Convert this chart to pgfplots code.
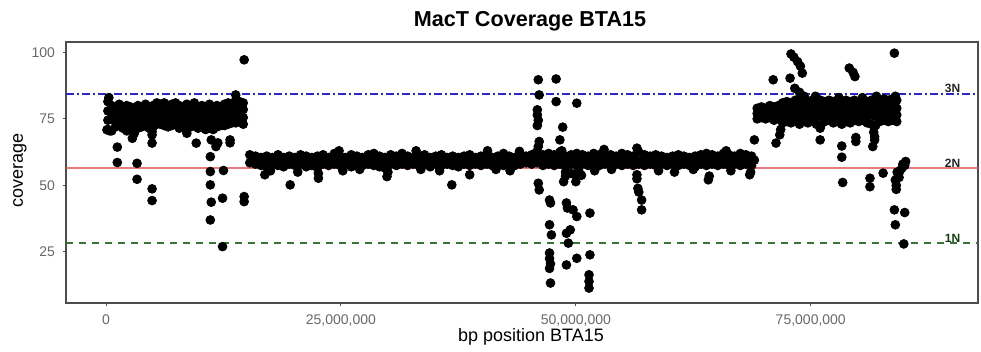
\documentclass[border=0pt]{standalone}
\usepackage{pgfplots}
\pgfplotsset{compat=1.18}
\usepackage{fontspec}
\setmainfont{Liberation Sans}
\definecolor{gthirty}{RGB}{77,77,77}
\definecolor{lineblue}{RGB}{40,40,190}
\definecolor{linered}{RGB}{225,100,100}
\definecolor{linegreen}{RGB}{55,115,55}
\begin{document}
\begin{tikzpicture}
\useasboundingbox (0,0) rectangle (490.5pt,176pt);
\begin{axis}[
  at={(33pt,24.5pt)}, anchor=south west,
  scale only axis, width=456pt, height=130.5pt,
  xmin=-4.26, xmax=92.8, ymin=5.8, ymax=103.9,
  xtick={0,25,50,75},
  xticklabels={0,{25,000,000},{50,000,000},{75,000,000}},
  ytick={25,50,75,100},
  tick pos=left, tick align=outside, major tick length=1.5pt,
  every tick/.style={gthirty, line width=0.5pt},
  axis line style={gthirty, line width=0.6pt},
  ticklabel style={font=\fontsize{7}{8}\selectfont, text=gthirty!85},
  /pgf/number format/assume math mode=true,
  xticklabel style={yshift=-1pt},
  yticklabel style={xshift=-0.5pt},
  clip=false,
]
\addplot[only marks, mark=*, mark size=2.2pt, mark options={fill=black, draw=black}] table[row sep=\\] {
x y\\
0.2 81.5\\ 0.2 78.0\\ 0.2 74.5\\ 0.2 71.0\\
0.6 80.0\\ 0.6 77.5\\ 0.6 75.0\\ 0.6 70.5\\
1.0 79.5\\ 1.0 77.0\\ 1.0 74.0\\ 1.0 72.0\\
1.4 80.5\\ 1.4 77.5\\ 1.4 74.5\\ 1.4 72.5\\
1.8 79.0\\ 1.8 76.5\\ 1.8 74.0\\ 1.8 71.5\\
2.2 80.0\\ 2.2 77.0\\ 2.2 73.5\\ 2.2 70.5\\
2.6 79.5\\ 2.6 76.5\\ 2.6 73.0\\ 2.6 71.0\\
3.0 78.5\\ 3.0 76.0\\ 3.0 73.5\\ 3.0 70.0\\
3.4 80.0\\ 3.4 77.0\\ 3.4 74.0\\ 3.4 71.5\\
3.8 79.0\\ 3.8 76.5\\ 3.8 73.5\\ 3.8 72.0\\
4.2 80.5\\ 4.2 77.0\\ 4.2 74.5\\ 4.2 72.5\\
4.6 79.5\\ 4.6 77.5\\ 4.6 74.0\\ 4.6 71.5\\
5.0 80.0\\ 5.0 77.0\\ 5.0 74.5\\ 5.0 72.0\\
5.4 81.0\\ 5.4 78.0\\ 5.4 75.0\\ 5.4 73.0\\
5.8 80.5\\ 5.8 78.5\\ 5.8 75.5\\ 5.8 73.0\\
6.2 81.0\\ 6.2 78.0\\ 6.2 75.0\\ 6.2 72.5\\
6.6 80.0\\ 6.6 77.5\\ 6.6 74.5\\ 6.6 72.0\\
7.0 80.5\\ 7.0 78.0\\ 7.0 75.0\\ 7.0 72.5\\
7.4 81.0\\ 7.4 78.5\\ 7.4 75.5\\ 7.4 73.0\\
7.8 80.0\\ 7.8 77.0\\ 7.8 74.5\\ 7.8 71.5\\
8.2 79.5\\ 8.2 77.5\\ 8.2 74.0\\ 8.2 72.0\\
8.6 80.5\\ 8.6 77.0\\ 8.6 74.5\\ 8.6 72.5\\
9.0 80.0\\ 9.0 77.5\\ 9.0 75.0\\ 9.0 72.0\\
9.4 81.0\\ 9.4 78.0\\ 9.4 74.5\\ 9.4 72.5\\
9.8 79.5\\ 9.8 77.0\\ 9.8 74.0\\ 9.8 71.5\\
10.2 80.0\\ 10.2 77.5\\ 10.2 74.5\\ 10.2 72.0\\
10.6 79.0\\ 10.6 76.5\\ 10.6 73.5\\ 10.6 71.0\\
11.0 80.5\\ 11.0 77.0\\ 11.0 74.0\\ 11.0 71.5\\
11.4 79.5\\ 11.4 76.5\\ 11.4 73.5\\ 11.4 71.0\\
11.8 80.0\\ 11.8 77.5\\ 11.8 74.5\\ 11.8 72.0\\
12.2 79.5\\ 12.2 77.0\\ 12.2 74.5\\ 12.2 72.5\\
12.6 80.5\\ 12.6 78.0\\ 12.6 75.0\\ 12.6 72.5\\
13.0 81.0\\ 13.0 78.5\\ 13.0 75.5\\ 13.0 73.0\\
13.4 80.5\\ 13.4 78.0\\ 13.4 75.5\\ 13.4 73.5\\
13.8 82.0\\ 13.8 79.0\\ 13.8 76.0\\ 13.8 73.5\\
14.2 81.5\\ 14.2 78.5\\ 14.2 76.0\\ 14.2 74.0\\
14.6 81.0\\ 14.6 78.5\\ 14.6 75.5\\ 14.6 73.0\\
13.8 84.0\\ 0.3 83.0\\
14.7 97.2\\ 0.1 70.9\\ 0.4 70.5\\ 1.2 64.4\\ 1.2 58.6\\ 2.8 67.7\\ 3.0 69.5\\
3.3 58.3\\ 3.3 52.3\\ 4.9 70.2\\ 4.9 69.0\\ 4.9 65.9\\ 4.9 48.7\\ 4.9 44.3\\
8.6 69.6\\ 9.6 65.9\\ 11.2 67.1\\ 11.7 64.6\\ 11.9 66.0\\ 11.1 60.8\\ 11.1 55.2\\
12.5 55.6\\ 11.1 50.2\\ 11.2 43.7\\ 12.4 45.2\\ 11.1 37.0\\ 12.4 27.0\\
13.2 67.1\\ 13.2 66.0\\ 14.7 45.8\\ 14.7 43.9\\
15.3 61.5\\ 15.3 58.5\\ 15.9 61.0\\ 15.9 58.0\\ 16.5 60.5\\ 16.5 57.5\\
17.1 61.0\\ 17.1 57.0\\ 17.7 60.5\\ 17.7 58.0\\ 18.3 61.5\\ 18.3 57.5\\
18.9 60.5\\ 18.9 57.0\\ 19.5 61.0\\ 19.5 58.0\\ 20.1 60.5\\ 20.1 57.5\\
20.7 61.5\\ 20.7 58.0\\ 21.3 61.0\\ 21.3 57.0\\ 21.9 60.5\\ 21.9 57.5\\
22.5 61.0\\ 22.5 56.5\\ 23.1 61.5\\ 23.1 58.0\\ 23.7 60.5\\ 23.7 57.5\\
24.3 62.0\\ 24.3 58.0\\ 24.9 61.0\\ 24.9 57.5\\ 25.5 60.5\\ 25.5 58.0\\
26.1 61.5\\ 26.1 57.0\\ 26.7 61.0\\ 26.7 58.0\\ 27.3 60.5\\ 27.3 57.5\\
27.9 61.5\\ 27.9 58.0\\ 28.5 62.0\\ 28.5 57.5\\ 29.1 61.0\\ 29.1 57.0\\
29.7 60.5\\ 29.7 56.5\\ 30.3 61.5\\ 30.3 58.0\\ 30.9 61.0\\ 30.9 57.5\\
31.5 62.0\\ 31.5 58.0\\ 32.1 61.0\\ 32.1 57.5\\ 32.7 60.5\\ 32.7 58.0\\
33.3 61.0\\ 33.3 57.5\\ 33.9 61.5\\ 33.9 58.0\\ 34.5 60.5\\ 34.5 57.0\\
35.1 61.0\\ 35.1 58.0\\ 35.7 61.5\\ 35.7 57.5\\ 36.3 60.5\\ 36.3 58.0\\
36.9 61.0\\ 36.9 57.5\\ 37.5 60.5\\ 37.5 57.0\\ 38.1 61.0\\ 38.1 58.0\\
38.7 61.5\\ 38.7 57.5\\ 39.3 60.5\\ 39.3 58.0\\ 39.9 61.0\\ 39.9 57.5\\
40.5 61.5\\ 40.5 58.0\\ 41.1 60.5\\ 41.1 57.5\\ 41.7 61.0\\ 41.7 58.0\\
42.3 62.0\\ 42.3 57.5\\ 42.9 61.0\\ 42.9 58.0\\ 43.5 60.5\\ 43.5 57.5\\
44.1 61.5\\ 44.1 58.0\\ 44.7 61.0\\ 44.7 58.5\\ 45.3 61.5\\ 45.3 58.0\\
45.9 62.5\\ 45.9 58.5\\ 46.5 61.5\\ 46.5 57.5\\ 47.1 62.0\\ 47.1 58.0\\
47.7 61.5\\ 47.7 57.5\\ 48.3 62.5\\ 48.3 58.0\\ 48.9 61.0\\ 48.9 57.0\\
49.5 61.5\\ 49.5 58.0\\ 50.1 62.0\\ 50.1 57.5\\ 50.7 61.5\\ 50.7 58.0\\
51.3 61.0\\ 51.3 57.5\\ 51.9 62.0\\ 51.9 58.0\\ 52.5 61.5\\ 52.5 57.5\\
53.1 61.0\\ 53.1 58.0\\ 53.7 61.5\\ 53.7 57.5\\ 54.3 61.0\\ 54.3 58.0\\
54.9 62.0\\ 54.9 57.5\\ 55.5 61.5\\ 55.5 58.0\\ 56.1 61.0\\ 56.1 57.5\\
56.7 62.5\\ 56.7 58.0\\ 57.3 61.5\\ 57.3 57.5\\ 57.9 61.0\\ 57.9 58.0\\
58.5 61.5\\ 58.5 57.5\\ 59.1 61.0\\ 59.1 58.0\\ 59.7 60.5\\ 59.7 57.5\\
60.3 61.0\\ 60.3 58.0\\ 60.9 61.5\\ 60.9 57.5\\ 61.5 61.0\\ 61.5 58.0\\
62.1 60.5\\ 62.1 57.5\\ 62.7 61.0\\ 62.7 57.0\\ 63.3 61.5\\ 63.3 58.0\\
63.9 62.0\\ 63.9 57.5\\ 64.5 61.5\\ 64.5 58.0\\ 65.1 61.0\\ 65.1 57.5\\
65.7 62.0\\ 65.7 58.0\\ 66.3 61.5\\ 66.3 57.5\\ 66.9 61.0\\ 66.9 58.0\\
67.5 62.0\\ 67.5 57.5\\ 68.1 61.5\\ 68.1 58.0\\ 68.7 61.0\\ 68.7 57.5\\
15.6 59.5\\ 16.2 59.0\\ 16.8 60.0\\ 17.4 59.5\\ 18.0 59.0\\ 18.6 59.5\\
19.2 60.0\\ 19.8 59.0\\ 20.4 59.5\\ 21.0 60.0\\ 21.6 59.0\\ 22.2 59.5\\
22.8 59.0\\ 23.4 60.0\\ 24.0 59.5\\ 24.6 59.0\\ 25.2 59.5\\ 25.8 60.0\\
26.4 59.0\\ 27.0 59.5\\ 27.6 60.0\\ 28.2 59.5\\ 28.8 59.0\\ 29.4 59.5\\
30.0 59.0\\ 30.6 60.0\\ 31.2 59.5\\ 31.8 59.0\\ 32.4 60.0\\ 33.0 59.5\\
33.6 59.0\\ 34.2 59.5\\ 34.8 60.0\\ 35.4 59.0\\ 36.0 59.5\\ 36.6 60.0\\
37.2 59.0\\ 37.8 59.5\\ 38.4 59.0\\ 39.0 60.0\\ 39.6 59.5\\ 40.2 59.0\\
40.8 59.5\\ 41.4 60.0\\ 42.0 59.5\\ 42.6 59.0\\ 43.2 60.0\\ 43.8 59.5\\
44.4 59.0\\ 45.0 60.0\\ 45.6 60.5\\ 46.2 59.5\\ 46.8 60.0\\ 47.4 59.5\\
48.0 60.0\\ 48.6 59.5\\ 49.2 59.0\\ 49.8 60.0\\ 50.4 59.5\\ 51.0 59.0\\
51.6 60.0\\ 52.2 59.5\\ 52.8 59.0\\ 53.4 59.5\\ 54.0 60.0\\ 54.6 59.5\\
55.2 59.0\\ 55.8 60.0\\ 56.4 59.5\\ 57.0 59.0\\ 57.6 59.5\\ 58.2 60.0\\
58.8 59.5\\ 59.4 59.0\\ 60.0 59.5\\ 60.6 60.0\\ 61.2 59.5\\ 61.8 59.0\\
62.4 59.5\\ 63.0 60.0\\ 63.6 59.5\\ 64.2 59.0\\ 64.8 60.0\\ 65.4 59.5\\
66.0 59.0\\ 66.6 59.5\\ 67.2 60.0\\ 67.8 59.5\\ 68.4 59.0\\ 69.0 59.5\\
17.5 55.5\\ 20.4 55.0\\ 22.6 54.5\\ 25.2 55.5\\ 27.0 56.0\\ 30.0 55.0\\
33.5 56.0\\ 35.5 55.5\\ 41.5 56.0\\ 43.0 55.5\\ 52.0 55.5\\ 53.8 56.0\\
58.8 55.5\\ 60.5 55.0\\ 62.5 56.0\\ 66.5 55.5\\ 68.6 55.0\\
24.8 63.0\\ 33.0 63.0\\ 40.6 63.0\\ 44.0 62.8\\ 53.0 63.5\\ 56.5 64.0\\ 66.0 63.0\\
16.9 54.0\\ 19.6 50.2\\ 22.6 52.7\\ 29.9 53.3\\ 36.8 50.2\\ 38.7 54.0\\
46.0 89.7\\ 47.9 90.0\\ 46.1 84.0\\ 47.9 81.5\\ 50.1 80.9\\ 45.9 78.4\\
45.9 76.5\\ 46.0 74.5\\ 45.9 72.5\\ 48.6 71.9\\ 46.0 64.6\\ 46.1 66.5\\
48.3 67.1\\ 45.8 62.5\\ 48.5 63.0\\
46.0 50.8\\ 46.1 48.3\\ 47.2 44.5\\ 47.3 43.4\\ 48.7 51.4\\ 48.9 53.5\\
48.9 55.0\\ 49.5 54.5\\ 50.3 55.5\\ 50.6 53.8\\
49.0 43.4\\ 49.1 41.5\\ 50.1 53.3\\ 50.0 51.4\\ 50.1 38.3\\ 49.7 40.8\\
51.5 39.6\\ 47.2 35.2\\ 47.4 31.4\\ 49.0 32.0\\ 49.2 28.3\\ 49.4 33.3\\
47.2 24.6\\ 47.2 22.5\\ 47.3 20.5\\ 47.2 18.8\\ 49.0 20.1\\ 50.1 22.6\\
51.5 23.9\\ 47.3 13.3\\ 51.4 16.4\\ 51.4 13.9\\ 51.4 11.4\\
56.6 48.9\\ 56.7 47.5\\ 57.0 44.5\\ 57.0 40.8\\ 56.5 52.5\\ 56.5 54.0\\
64.1 52.1\\ 64.2 53.5\\ 68.5 54.0\\ 69.0 67.1\\
69.30 79.0\\ 69.30 77.0\\ 69.30 75.0\\
69.75 79.5\\ 69.75 77.5\\ 69.75 75.5\\
70.20 79.0\\ 70.20 77.0\\ 70.20 75.0\\
70.65 80.0\\ 70.65 77.5\\ 70.65 75.5\\
71.10 79.5\\ 71.10 77.0\\ 71.10 74.5\\
71.55 80.0\\ 71.55 78.0\\ 71.55 75.5\\
72.00 81.0\\ 72.00 78.5\\ 72.00 76.0\\ 72.00 73.5\\
72.45 81.5\\ 72.45 79.0\\ 72.45 76.5\\ 72.45 74.0\\
72.90 81.0\\ 72.90 78.5\\ 72.90 76.0\\ 72.90 73.5\\
73.35 82.0\\ 73.35 79.5\\ 73.35 77.0\\ 73.35 74.5\\
73.80 82.5\\ 73.80 79.5\\ 73.80 76.5\\ 73.80 73.0\\
74.25 82.0\\ 74.25 79.0\\ 74.25 76.0\\ 74.25 74.0\\
74.70 81.5\\ 74.70 79.0\\ 74.70 76.5\\ 74.70 73.5\\
75.15 82.0\\ 75.15 79.5\\ 75.15 77.0\\ 75.15 74.5\\
75.60 81.5\\ 75.60 78.5\\ 75.60 76.0\\ 75.60 73.0\\
76.05 82.0\\ 76.05 79.0\\ 76.05 76.0\\ 76.05 72.5\\
76.50 81.5\\ 76.50 79.0\\ 76.50 76.5\\ 76.50 74.0\\
76.95 82.0\\ 76.95 79.5\\ 76.95 77.0\\ 76.95 74.5\\
77.40 81.5\\ 77.40 79.0\\ 77.40 76.0\\ 77.40 73.5\\
77.85 82.0\\ 77.85 79.0\\ 77.85 76.5\\ 77.85 74.0\\
78.30 81.5\\ 78.30 78.5\\ 78.30 76.0\\ 78.30 73.0\\
78.75 82.0\\ 78.75 79.5\\ 78.75 76.5\\ 78.75 74.0\\
79.20 81.5\\ 79.20 79.0\\ 79.20 76.0\\ 79.20 73.5\\
79.65 82.0\\ 79.65 79.0\\ 79.65 76.5\\ 79.65 74.5\\
80.10 81.5\\ 80.10 79.5\\ 80.10 77.0\\ 80.10 74.0\\
80.55 82.0\\ 80.55 79.0\\ 80.55 76.5\\ 80.55 74.5\\
81.00 81.5\\ 81.00 78.5\\ 81.00 76.0\\ 81.00 73.5\\
81.45 82.0\\ 81.45 79.0\\ 81.45 76.5\\ 81.45 73.0\\
81.90 81.5\\ 81.90 79.0\\ 81.90 76.0\\ 81.90 72.5\\
82.35 82.0\\ 82.35 79.5\\ 82.35 77.0\\ 82.35 74.0\\
82.80 82.5\\ 82.80 79.5\\ 82.80 76.5\\ 82.80 74.5\\
83.25 82.0\\ 83.25 79.0\\ 83.25 76.0\\ 83.25 74.0\\
83.70 82.5\\ 83.70 79.5\\ 83.70 77.0\\ 83.70 74.5\\
84.15 82.0\\ 84.15 79.0\\ 84.15 76.5\\ 84.15 74.0\\
75.5 83.5\\ 78.0 83.0\\ 80.5 83.0\\ 82.0 83.5\\ 84.0 83.5\\
72.9 99.4\\ 73.2 98.2\\ 73.6 96.5\\ 73.9 94.8\\ 74.1 92.2\\ 71.0 89.7\\
72.8 90.3\\ 73.3 86.5\\ 73.8 85.0\\ 74.3 83.5\\ 79.1 94.1\\ 79.5 92.5\\
79.7 90.9\\ 83.9 99.7\\ 71.3 65.9\\ 71.7 69.0\\ 71.8 71.0\\ 74.0 74.6\\
76.0 71.5\\ 76.0 67.1\\ 78.3 64.8\\ 78.3 60.6\\ 78.4 51.1\\ 79.8 66.5\\
79.8 68.0\\ 81.3 52.7\\ 81.3 49.5\\ 81.6 64.6\\ 81.8 68.3\\ 81.8 67.1\\
81.7 70.0\\ 82.7 54.6\\ 83.9 40.8\\ 85.0 39.8\\ 84.0 35.2\\ 84.9 28.0\\
84.0 52.0\\ 84.1 50.0\\ 84.1 48.5\\ 84.3 54.0\\ 84.5 55.5\\ 84.7 56.5\\
85.0 57.5\\ 85.1 59.0\\ 84.8 58.0\\ 84.4 53.0\\ 84.2 55.0\\
};
\addplot[lineblue, line width=1pt, dash pattern=on 4pt off 1.5pt on 1pt off 1.5pt] coordinates {(-4.26,84.5) (92.8,84.5)};
\addplot[linered, line width=1pt, opacity=0.85] coordinates {(-4.26,56.4) (92.8,56.4)};
\addplot[linegreen, line width=1pt, dash pattern=on 3.5pt off 3pt] coordinates {(-4.26,28.2) (92.8,28.2)};
\node[font=\bfseries\fontsize{6}{7}\selectfont, text=black!85] at (axis cs:90.1,86.3) {3N};
\node[font=\bfseries\fontsize{6}{7}\selectfont, text=black!85] at (axis cs:90.1,58.2) {2N};
\node[font=\bfseries\fontsize{6}{7}\selectfont, text={rgb,255:red,20;green,60;blue,20}] at (axis cs:90.1,30.0) {1N};
\end{axis}
\node[anchor=base, font=\bfseries\fontsize{10.8}{12}\selectfont] at (265pt,162.75pt) {MacT Coverage BTA15};
\node[anchor=base, font=\fontsize{9}{10}\selectfont] at (265.5pt,5pt) {bp position BTA15};
\node[rotate=90, font=\fontsize{9}{10}\selectfont] at (10pt,90.75pt) {coverage};
\end{tikzpicture}
\end{document}
